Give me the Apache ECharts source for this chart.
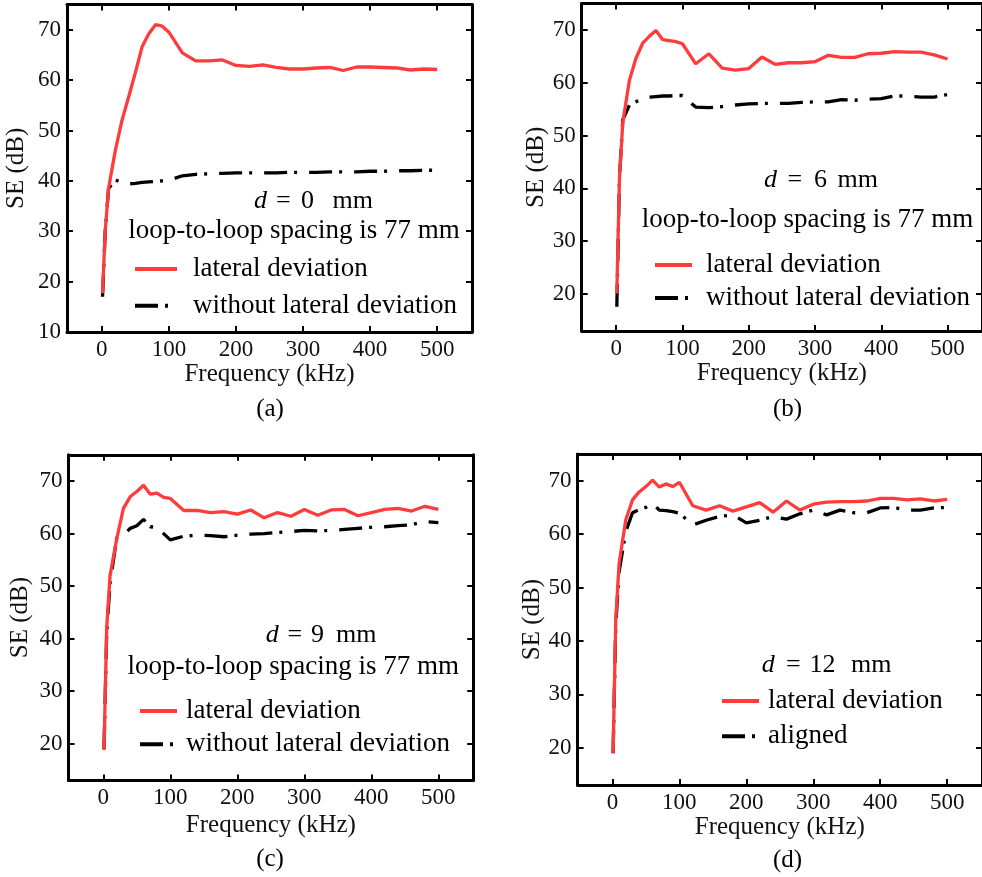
<!DOCTYPE html>
<html><head><meta charset="utf-8">
<script src="https://cdn.jsdelivr.net/npm/echarts@6/dist/echarts.min.js"></script>
<style>html,body{margin:0;padding:0;background:#fff}#c{width:982px;height:877px}</style>
</head><body><div id="c"></div>
<script>
// ---------- data ----------
const freq = [1, 5, 10, 20, 30, 40, 50, 60, 70, 80, 90, 100, 120, 140, 160, 180, 200, 220, 240, 260, 280, 300, 320, 340, 360, 380, 400, 420, 440, 460, 480, 500];

const redA   = [17.7, 30, 38.5, 46, 52, 56.7, 61.5, 66.6, 69.2, 71, 70.7, 69.5, 65.4, 63.8, 63.8, 64.0, 62.9, 62.7, 63.0, 62.5, 62.2, 62.2, 62.4, 62.5, 61.9, 62.6, 62.6, 62.5, 62.4, 62.0, 62.2, 62.1];
const blackA = [17.0, 30, 38.5, 40.2, 39.6, 39.4, 39.5, 39.7, 39.8, 39.9, 40.0, 40.1, 41.0, 41.3, 41.4, 41.5, 41.6, 41.6, 41.6, 41.6, 41.7, 41.7, 41.7, 41.8, 41.8, 41.8, 41.9, 41.9, 42.0, 42.0, 42.1, 42.1];

const redB   = [20.1, 42, 52.5, 60.5, 64.7, 67.5, 68.8, 69.9, 68.2, 68.0, 67.8, 67.4, 63.6, 65.5, 62.8, 62.4, 62.7, 64.9, 63.5, 63.8, 63.8, 64.0, 65.2, 64.8, 64.8, 65.5, 65.6, 65.9, 65.8, 65.8, 65.3, 64.5];
const blackB = [17.6, 42, 53, 55.8, 56.4, 57.0, 57.3, 57.4, 57.5, 57.5, 57.6, 57.6, 55.4, 55.3, 55.5, 55.8, 56.0, 56.1, 56.1, 56.1, 56.3, 56.4, 56.4, 56.8, 56.7, 56.9, 57.0, 57.5, 57.5, 57.3, 57.3, 57.8];

const redC   = [18.8, 42, 52, 59, 64.8, 67.0, 68.0, 69.2, 67.5, 67.7, 66.9, 66.7, 64.4, 64.4, 64.0, 64.2, 63.7, 64.5, 63.0, 64.0, 63.3, 64.6, 63.5, 64.5, 64.6, 63.4, 64.0, 64.6, 64.8, 64.3, 65.2, 64.6];
const blackC = [19.0, 41, 50.5, 59.2, 59.6, 61.0, 61.5, 62.7, 61.3, 61.2, 60.0, 58.8, 59.5, 59.7, 59.6, 59.4, 59.7, 59.9, 60.0, 60.2, 60.4, 60.6, 60.5, 60.6, 60.8, 61.0, 61.2, 61.3, 61.5, 61.7, 62.3, 62.1];

const redD   = [18.9, 44, 54.5, 62.7, 66.4, 67.9, 68.9, 70.1, 68.8, 69.4, 68.9, 69.7, 65.3, 64.5, 65.3, 64.3, 65.1, 65.9, 64.1, 66.2, 64.5, 65.6, 66.0, 66.1, 66.1, 66.2, 66.7, 66.7, 66.4, 66.6, 66.2, 66.5];
const blackD = [19.0, 43, 53, 60.5, 64.0, 64.6, 65.0, 65.8, 64.5, 64.4, 64.2, 63.9, 61.7, 62.6, 63.3, 63.6, 62.1, 62.6, 63.3, 62.8, 63.8, 64.5, 63.6, 64.5, 64.0, 64.0, 64.9, 65.0, 64.5, 64.5, 64.9, 65.0];

const xTicks  = [0, 100, 200, 300, 400, 500];
const yTicksA = [10, 20, 30, 40, 50, 60, 70];
const yTicksB = [20, 30, 40, 50, 60, 70];

const redName = 'lateral deviation';
const blackNames = ['without lateral deviation', 'without lateral deviation', 'without lateral deviation', 'aligned'];
const dValues = ['0', '6', '9', '12'];
const panelLabels = ['(a)', '(b)', '(c)', '(d)'];
const spacingText = 'loop-to-loop spacing is 77 mm';
const xName = 'Frequency (kHz)';
const yName = 'SE (dB)';

const reds = [redA, redB, redC, redD];
const blacks = [blackA, blackB, blackC, blackD];

// ---------- layout ----------
const FONT = '"Liberation Serif", "Times New Roman", serif';
const RED = '#ff3c3c';
const panels = [
  {left: 67,    top: 4.5, width: 405, height: 327.5, ymin: 10, ymax: 75, yt: yTicksA, nameGapY: 38, nameGapX: 29,
   legend: {left: 133, top: 254, w: 42, gap: 6.7, pad: 12},
   d: {y: 201, xs: [254, 276, 301, 332.5]}, sp: [294, 231], lab: [270, 409]},
  {left: 581.7, top: 3.6, width: 406.6, height: 327.4, ymin: 13, ymax: 75, yt: yTicksB, nameGapY: 31, nameGapX: 28,
   legend: {left: 653, top: 250, w: 37, gap: 3, pad: 10},
   d: {y: 180, xs: [764, 787.5, 814, 837.5]}, sp: [807.5, 220], lab: [787.5, 409]},
  {left: 68.5,  top: 454.8, width: 404.7, height: 325.7, ymin: 13, ymax: 75, yt: yTicksB, nameGapY: 36, nameGapX: 32,
   legend: {left: 138, top: 696, w: 37, gap: 3.3, pad: 5},
   d: {y: 635, xs: [265.7, 287.5, 311, 336]}, sp: [293.3, 667], lab: [270, 859]},
  {left: 577.6, top: 454, width: 411, height: 331.1, ymin: 13, ymax: 75, yt: yTicksB, nameGapY: 31, nameGapX: 29,
   legend: {left: 720, top: 686, w: 37, gap: 5.3, pad: 5},
   d: {y: 665, xs: [761.7, 786, 809.5, 851]}, sp: null, lab: [787.5, 860]}
];

const grid = [], xAxis = [], yAxis = [], series = [], legend = [], graphic = [];
const frame = {show: true, onZero: false, lineStyle: {color: '#000', width: 3}};
const tickStyle = {color: '#000', width: 2};
const txt = (x, y, text, font, align) => ({type: 'text', x, y, silent: true,
  style: {text, fill: '#000', font, textAlign: align || 'left', textVerticalAlign: 'middle'}});

panels.forEach((p, i) => {
  grid.push({left: p.left, top: p.top, width: p.width, height: p.height, containLabel: false});
  xAxis.push({gridIndex: i, type: 'value', position: 'bottom', min: -52, max: 552,
    axisLine: frame,
    axisTick: {show: true, inside: true, length: 6, customValues: xTicks, lineStyle: tickStyle},
    axisLabel: {show: true, customValues: xTicks, fontFamily: FONT, fontSize: 23, color: '#111', margin: 6},
    splitLine: {show: false},
    name: xName, nameLocation: 'middle', nameGap: p.nameGapX,
    nameTextStyle: {fontFamily: FONT, fontSize: 25, color: '#111'}});
  xAxis.push({gridIndex: i, type: 'value', position: 'top', min: -52, max: 552,
    axisLine: frame,
    axisTick: {show: true, inside: true, length: 6, customValues: xTicks, lineStyle: tickStyle},
    axisLabel: {show: false}, splitLine: {show: false}});
  yAxis.push({gridIndex: i, type: 'value', position: 'left', min: p.ymin, max: p.ymax,
    axisLine: frame,
    axisTick: {show: true, inside: true, length: 6, customValues: p.yt, lineStyle: tickStyle},
    axisLabel: {show: true, customValues: p.yt, fontFamily: FONT, fontSize: 23, color: '#111', margin: 6},
    splitLine: {show: false},
    name: yName, nameLocation: 'middle', nameGap: p.nameGapY,
    nameTextStyle: {fontFamily: FONT, fontSize: 25, color: '#111'}});
  yAxis.push({gridIndex: i, type: 'value', position: 'right', min: p.ymin, max: p.ymax,
    axisLine: frame,
    axisTick: {show: true, inside: true, length: 6, customValues: p.yt, lineStyle: tickStyle},
    axisLabel: {show: false}, splitLine: {show: false}});

  series.push({type: 'line', name: blackNames[i], xAxisIndex: 2 * i, yAxisIndex: 2 * i,
    data: freq.map((f, k) => [f, blacks[i][k]]), symbol: 'none', showSymbol: false, z: 2,
    lineStyle: {color: '#000', width: 3.3, type: [23, 7, 3, 12]}, itemStyle: {color: '#000'}});
  series.push({type: 'line', name: redName, xAxisIndex: 2 * i, yAxisIndex: 2 * i,
    data: freq.map((f, k) => [f, reds[i][k]]), symbol: 'none', showSymbol: false, z: 3,
    lineStyle: {color: RED, width: 3.3}, itemStyle: {color: RED}});

  legend.push({orient: 'vertical', left: p.legend.left, top: p.legend.top, padding: 0,
    itemWidth: p.legend.w, itemHeight: 14, itemGap: p.legend.gap, selectedMode: false,
    data: [redName, blackNames[i]],
    itemStyle: {opacity: 0},
    lineStyle: {width: 4},
    textStyle: {fontFamily: FONT, fontSize: 27, color: '#000', lineHeight: 30, padding: [0, 0, 0, p.legend.pad - 1]}});

  // "d = N mm" annotation: italic d, then '=', value, unit
  const xs = p.d.xs, y = p.d.y;
  graphic.push(txt(xs[0], y, 'd', 'italic 26px ' + FONT));
  graphic.push(txt(xs[1], y, '=', '26px ' + FONT));
  graphic.push(txt(xs[2], y, dValues[i], '26px ' + FONT));
  graphic.push(txt(xs[3], y, 'mm', '26px ' + FONT));
  if (p.sp) graphic.push(txt(p.sp[0], p.sp[1], spacingText, '27px ' + FONT, 'center'));
  graphic.push(txt(p.lab[0], p.lab[1], panelLabels[i], '25px ' + FONT, 'center'));
});

const chart = echarts.init(document.getElementById('c'), null, {renderer: 'canvas'});
chart.setOption({animation: false, backgroundColor: '#fff', grid, xAxis, yAxis, series, legend, graphic});
</script></body></html>
